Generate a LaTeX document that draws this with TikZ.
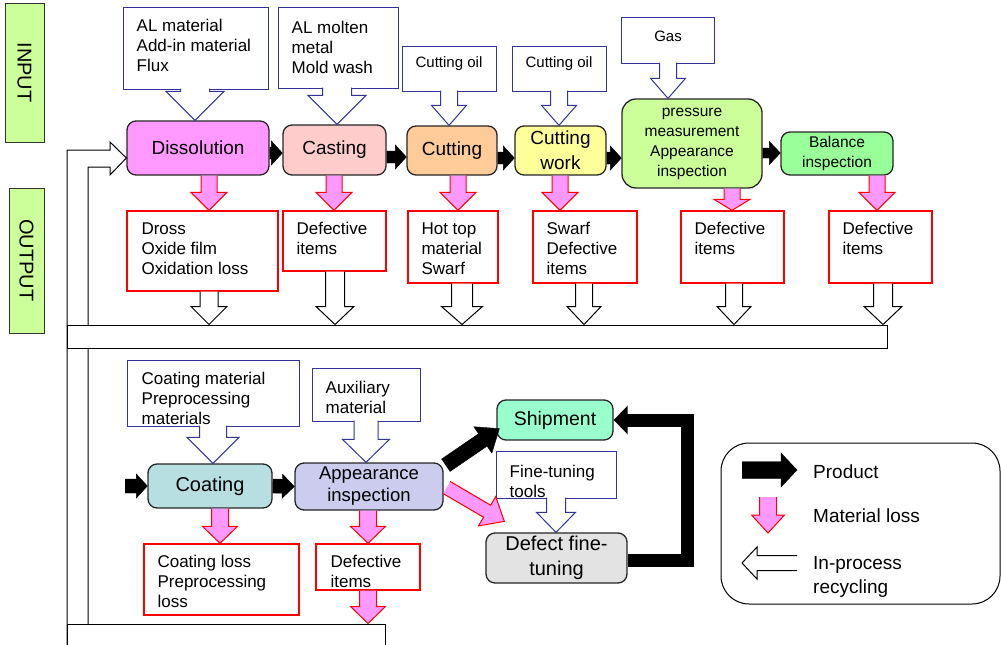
\documentclass[tikz,border=0pt]{standalone}
\usepackage{fontspec}
\setmainfont{Liberation Sans}
\usetikzlibrary{positioning, calc, arrows.meta}
\definecolor{sidegreen}{HTML}{CCFF99}
\definecolor{lossfill}{HTML}{FF99FF}
\definecolor{inblue}{HTML}{333399}
\definecolor{dissfill}{HTML}{FF99FF}
\definecolor{castfill}{HTML}{FFCCCC}
\definecolor{cutfill}{HTML}{FFCC99}
\definecolor{workfill}{HTML}{FFFF99}
\definecolor{pressfill}{HTML}{CCFF99}
\definecolor{balfill}{HTML}{99FF99}
\definecolor{coatfill}{HTML}{B7DEE0}
\definecolor{appfill}{HTML}{CCCCEE}
\definecolor{shipfill}{HTML}{99FFCC}
\definecolor{tunefill}{HTML}{E3E3E3}
% block arrow: [overlap]{style}{start}{tip}{half shaft}{half head}{head length}
\newcommand{\blockarrow}[7][0pt]{%
  \path (#3) coordinate (ba) (#4) coordinate (bt);
  \path ($(ba)!-#1!(bt)$) coordinate (bs) ($(bt)!#7!(ba)$) coordinate (bh);
  \filldraw[#2] ($(bs)!#5!90:(bt)$) -- ($(bh)!#5!90:(bt)$) -- ($(bh)!#6!90:(bt)$) -- (bt)
    -- ($(bh)!#6!-90:(bt)$) -- ($(bh)!#5!-90:(bt)$) -- ($(bs)!#5!-90:(bt)$);}

\begin{document}
\begin{tikzpicture}[x=1pt, y=-1pt, line join=miter]
\tikzstyle{every node}=[font=\fontsize{17}{20}\selectfont, inner sep=0pt]
\tikzstyle{process} = [draw=black!85, line width=1.3pt, rounded corners=9pt, align=center,
                       font=\fontsize{19}{23}\selectfont]
\tikzstyle{side} = [draw=black!80, line width=1pt, fill=sidegreen, rotate=-90,
                    font=\fontsize{20}{24}\selectfont]
\tikzstyle{inbox} = [draw=inblue, line width=1pt, fill=white]
\tikzstyle{outbox} = [draw=red, line width=1.3pt, fill=white]
\tikzstyle{boxtext} = [align=left, anchor=north west]
\tikzstyle{prod} = [fill=black, draw=black, line width=0.4pt]
\tikzstyle{loss} = [fill=lossfill, draw=red, line width=1pt]
\tikzstyle{recyc} = [fill=white, draw=black, line width=1pt]
\tikzstyle{callout} = [fill=white, draw=inblue, line width=1pt]

\useasboundingbox (0,0) rectangle (1001,645);

\node[side, minimum width=139pt, minimum height=39pt] (inlab) at (24.5,72.5) {INPUT};
\node[side, minimum width=145pt, minimum height=35pt] (outlab) at (26.5,260.5) {OUTPUT};

\node[process, fill=dissfill, minimum width=142pt, minimum height=54pt] (diss) at (198,148) {Dissolution};
\node[process, fill=castfill, minimum width=103pt, minimum height=50pt] (cast) at (334.5,150) {Casting};
\node[process, fill=cutfill, minimum width=90pt, minimum height=49pt] (cut) at (452,150.5) {Cutting};
\node[process, fill=workfill, minimum width=91pt, minimum height=49pt,
      font=\fontsize{19}{25}\selectfont] (work) at (560.5,150.5) {Cutting\\work};
\node[process, fill=pressfill, minimum width=140pt, minimum height=89pt, rounded corners=14pt,
      font=\fontsize{15.5}{20}\selectfont] (press) at (692,143.5) {pressure\\measurement\\Appearance\\inspection};
\node[process, fill=balfill, minimum width=112pt, minimum height=43pt,
      font=\fontsize{15.5}{20}\selectfont] (bal) at (837,153.5) {Balance\\inspection};
\node[process, fill=coatfill, minimum width=124pt, minimum height=44pt,
      font=\fontsize{20}{24}\selectfont] (coat) at (210,486) {Coating};
\node[process, fill=appfill, minimum width=148pt, minimum height=47pt,
      font=\fontsize{18.5}{22}\selectfont] (app) at (369,486.5) {Appearance\\inspection};
\node[process, fill=shipfill, minimum width=116pt, minimum height=40pt,
      font=\fontsize{19.5}{23}\selectfont] (ship) at (555,420) {Shipment};
\node[process, fill=tunefill, minimum width=141pt, minimum height=50pt,
      font=\fontsize{20}{25}\selectfont] (tune) at (556.5,558) {Defect fine-\\tuning};

% recycling line back to dissolution
\filldraw[recyc] (67,660) -- (67,150) -- (110,150) -- (110,142) -- (diss.west |- 0,158)
  -- (110,175) -- (110,167) -- (88,167) -- (88,660);
\node[recyc, minimum width=820pt, minimum height=23pt] (band) at (477,336.5) {};
\node[recyc, minimum width=318pt, minimum height=36pt] (band2) at (226,642) {};

% inputs
\node[inbox, minimum width=145pt, minimum height=82pt] (in1) at (195.5,48) {};
\node[inbox, minimum width=120pt, minimum height=81pt] (in2) at (338,47.5) {};
\node[inbox, minimum width=94pt, minimum height=45pt] (in3) at (449,68.5) {};
\node[inbox, minimum width=94pt, minimum height=45pt] (in4) at (559,68.5) {};
\node[inbox, minimum width=93pt, minimum height=46pt] (in5) at (667.5,40) {};
\node[inbox, minimum width=172pt, minimum height=66pt] (in6) at (213,393) {};
\node[inbox, minimum width=108pt, minimum height=53pt] (in7) at (366,394.5) {};
\node[inbox, minimum width=120pt, minimum height=47pt] (in8) at (556,474.5) {};
\blockarrow[1pt]{callout}{195,0 |- in1.south}{195,0 |- diss.north}{14.5pt}{29pt}{29pt}
\blockarrow[1pt]{callout}{337,0 |- in2.south}{337,0 |- cast.north}{14.5pt}{29pt}{29pt}
\blockarrow[1pt]{callout}{449,0 |- in3.south}{449,0 |- cut.north}{8.5pt}{17.5pt}{20pt}
\blockarrow[1pt]{callout}{559,0 |- in4.south}{559,0 |- work.north}{8.5pt}{17.5pt}{20pt}
\blockarrow[1pt]{callout}{668,0 |- in5.south}{668,0 |- press.north}{8.5pt}{17.5pt}{20pt}
\blockarrow[1pt]{callout}{213,0 |- in6.south}{213,0 |- coat.north}{13.5pt}{26pt}{26pt}
\blockarrow[1pt]{callout}{366,0 |- in7.south}{366,0 |- app.north}{12pt}{23.5pt}{23pt}
\blockarrow[1pt]{callout}{556,0 |- in8.south}{556,0 |- tune.north}{9.5pt}{19.5pt}{20pt}
\node[boxtext] (in1t) at ($(in1.north west)+(14,12)$) {AL material\\Add-in material\\Flux};
\node[boxtext] (in2t) at ($(in2.north west)+(14,14)$) {AL molten\\metal\\Mold wash};
\node[font=\fontsize{15}{18}\selectfont] (in3t) at (449,64) {Cutting oil};
\node[font=\fontsize{15}{18}\selectfont] (in4t) at (559,64) {Cutting oil};
\node[font=\fontsize{15}{18}\selectfont] (in5t) at (668,36) {Gas};
\node[boxtext] (in6t) at ($(in6.north west)+(15,12)$) {Coating material\\Preprocessing\\materials};
\node[boxtext] (in7t) at ($(in7.north west)+(14,13)$) {Auxiliary\\material};
\node[boxtext] (in8t) at ($(in8.north west)+(14,14)$) {Fine-tuning\\tools};

% outputs
\node[outbox, minimum width=151pt, minimum height=80pt] (out1) at (202.5,251) {};
\node[outbox, minimum width=103pt, minimum height=60pt] (out2) at (334.5,241) {};
\node[outbox, minimum width=90pt, minimum height=72pt] (out3) at (453,247) {};
\node[outbox, minimum width=104pt, minimum height=72pt] (out4) at (585,247) {};
\node[outbox, minimum width=103pt, minimum height=72pt] (out5) at (732.5,247) {};
\node[outbox, minimum width=103pt, minimum height=72pt] (out6) at (880.5,247) {};
\node[outbox, minimum width=155pt, minimum height=71pt] (out7) at (221.5,579.5) {};
\node[outbox, minimum width=104pt, minimum height=46pt] (out8) at (368,567) {};
\node[boxtext] (out1t) at ($(out1.north west)+(15,12)$) {Dross\\Oxide film\\Oxidation loss};
\node[boxtext] (out2t) at ($(out2.north west)+(14,12)$) {Defective\\items};
\node[boxtext] (out3t) at ($(out3.north west)+(14,12)$) {Hot top\\material\\Swarf};
\node[boxtext] (out4t) at ($(out4.north west)+(14,12)$) {Swarf\\Defective\\items};
\node[boxtext] (out5t) at ($(out5.north west)+(14,12)$) {Defective\\items};
\node[boxtext] (out6t) at ($(out6.north west)+(14,12)$) {Defective\\items};
\node[boxtext] (out7t) at ($(out7.north west)+(14,12)$) {Coating loss\\Preprocessing\\loss};
\node[boxtext] (out8t) at ($(out8.north west)+(15,12)$) {Defective\\items};

% material loss
\blockarrow{loss}{209,0 |- diss.south}{209,0 |- out1.north}{8pt}{18pt}{18pt}
\blockarrow{loss}{334,0 |- cast.south}{334,0 |- out2.north}{8pt}{18pt}{18pt}
\blockarrow{loss}{458,0 |- cut.south}{458,0 |- out3.north}{8pt}{18pt}{18pt}
\blockarrow{loss}{560,0 |- work.south}{560,0 |- out4.north}{8pt}{18pt}{18pt}
\blockarrow{loss}{732,0 |- press.south}{732,0 |- out5.north}{8pt}{18pt}{11pt}
\blockarrow{loss}{877,0 |- bal.south}{877,0 |- out6.north}{8pt}{18pt}{18pt}
\blockarrow{loss}{220,0 |- coat.south}{220,0 |- out7.north}{8.5pt}{17.5pt}{17pt}
\blockarrow{loss}{368,0 |- app.south}{368,0 |- out8.north}{8.5pt}{17.5pt}{17pt}
\blockarrow{loss}{368,0 |- out8.south}{368,0 |- band2.north}{8.5pt}{17.5pt}{17pt}
\blockarrow{loss}{$(app.east)+(3,1)$}{$(tune.north west)+(19,-11)$}{7pt}{17pt}{20pt}

% recycling
\blockarrow{recyc}{209,0 |- out1.south}{209,0 |- band.north}{9pt}{18pt}{18pt}
\blockarrow{recyc}{335,0 |- out2.south}{335,0 |- band.north}{9.5pt}{19pt}{18pt}
\blockarrow{recyc}{462,0 |- out3.south}{462,0 |- band.north}{10.5pt}{20.5pt}{18pt}
\blockarrow{recyc}{584,0 |- out4.south}{584,0 |- band.north}{8.5pt}{17pt}{18pt}
\blockarrow{recyc}{734,0 |- out5.south}{734,0 |- band.north}{8.5pt}{17pt}{18pt}
\blockarrow{recyc}{883,0 |- out6.south}{883,0 |- band.north}{9.5pt}{19pt}{18pt}

% product
\coordinate (coatin) at (125,486);
\blockarrow{prod}{diss.east |- 0,153}{cast.west |- 0,153}{6pt}{12pt}{11pt}
\blockarrow{prod}{cast.east |- 0,157}{cut.west |- 0,157}{6pt}{12pt}{11pt}
\blockarrow{prod}{cut.east |- 0,158}{work.west |- 0,158}{6pt}{12pt}{11pt}
\blockarrow{prod}{work.east |- 0,158}{press.west |- 0,158}{6pt}{12pt}{11pt}
\blockarrow{prod}{press.east |- 0,153}{bal.west |- 0,153}{5pt}{11.5pt}{11pt}
\blockarrow{prod}{coatin}{coat.west}{7pt}{12pt}{11pt}
\blockarrow{prod}{coat.east}{app.west}{7pt}{12pt}{12pt}
\blockarrow{prod}{$(app.north east)+(2,3)$}{$(ship.south west)+(3,-12)$}{7.5pt}{16pt}{20pt}
\draw[line width=13pt, -{Triangle[length=14pt,width=28pt]}] (tune.east |- 0,560) -| (687,420)
  -- (ship.east |- 0,420);

% legend
\node[draw=black, line width=1pt, rounded corners=28pt, minimum width=279pt,
      minimum height=161pt] (legend) at (860.5,523.5) {};
\blockarrow{prod}{742,470}{797,470}{8.5pt}{17pt}{16pt}
\blockarrow{loss}{768,497}{768,533}{8.5pt}{16.5pt}{18pt}
\blockarrow{recyc}{797,563}{742,563}{7.5pt}{16pt}{15pt}
\node[anchor=west, font=\fontsize{19}{24}\selectfont] (lprod) at (813,472) {Product};
\node[anchor=west, font=\fontsize{19}{24}\selectfont] (lloss) at (813,516) {Material loss};
\node[boxtext, font=\fontsize{19}{24}\selectfont] (lrec) at (813,556) {In-process\\recycling};
\end{tikzpicture}
\end{document}
